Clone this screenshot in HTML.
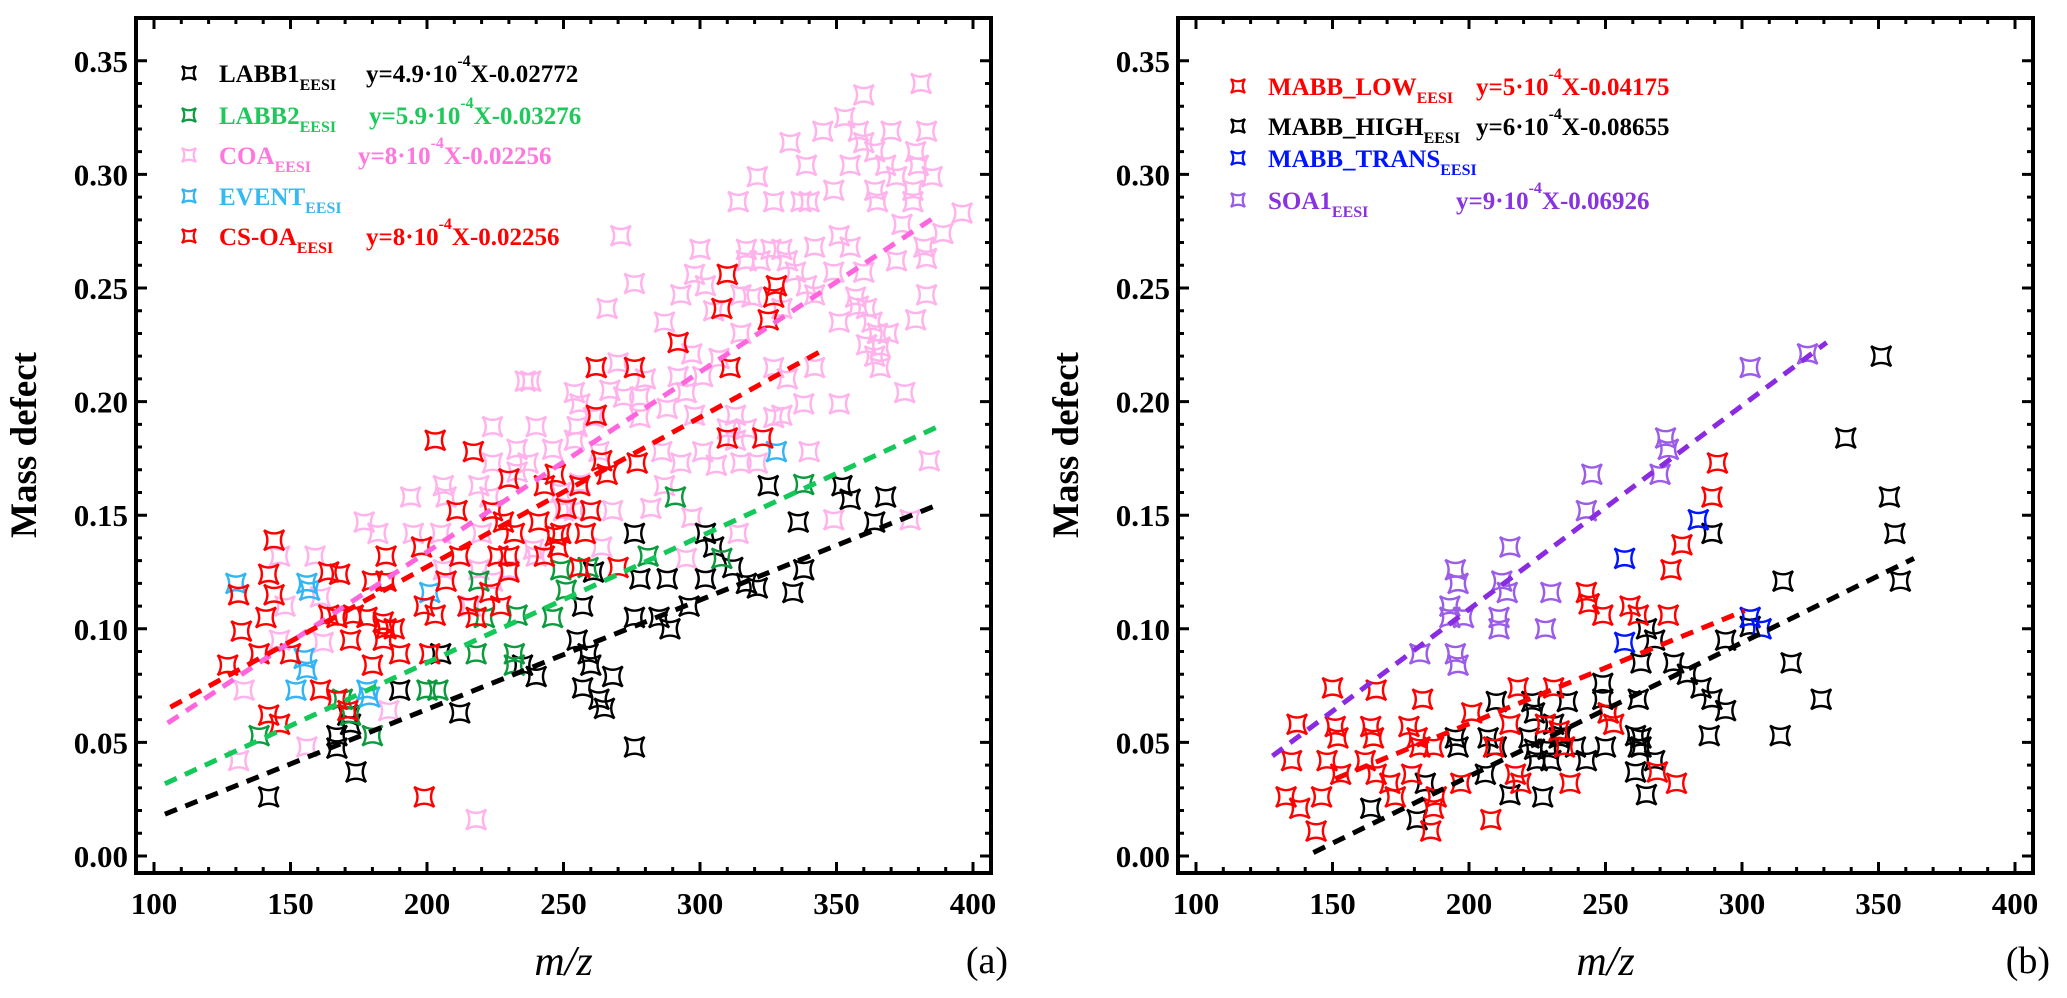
<!DOCTYPE html>
<html><head><meta charset="utf-8"><style>
html,body{margin:0;padding:0;background:#fff;}
svg{display:block;font-family:"Liberation Serif",serif;}
</style></head><body>
<svg id="chart" width="2067" height="998" viewBox="0 0 2067 998" xmlns="http://www.w3.org/2000/svg">
<g id="panelA"></g>
<g id="panelB"></g>
</svg>
<script>
// ---- Panel (a) data ----
const labb1X=[142,174,167,167,172,171,190,212,205,235,240,257,255,259,257,260,325,352,355,368,336,364,276,302,305,312,338,317,321,334,261,278,288,302,265,268,263,276,276,285,289,296];
const labb1Y=[.026,.037,.0475,.053,.058,.062,.073,.063,.089,.084,.079,.110,.095,.089,.074,.084,.163,.163,.157,.158,.147,.147,.142,.142,.136,.127,.126,.120,.118,.116,.125,.122,.122,.122,.065,.079,.069,.048,.105,.105,.100,.110];
const labb2X=[138.5,169,172,180,200,204,218,219,221,232,232,233,246,259,291,338,281,308,249,251];
const labb2Y=[.053,.069,.062,.053,.073,.073,.089,.121,.105,.089,.084,.106,.105,.127,.158,.1635,.132,.131,.126,.117];
const eventX=[130,156,157,201,155,156,152,178,179,328];
const eventY=[.12,.12,.117,.116,.087,.082,.073,.073,.070,.178];
const csoaX=[144,203,217,142,131,144,141,132,127,138.5,150,164,168,185,180,185,164,167,173,178,184,185,188,172,184,190,180,201,161,167,171,142,146,199,198,199,203,212,215,218,227,223,207,226,230,230,228,232,241,247,248,243,224,230,243,247,256,260,258,256,211,310,328,327,308,325,292,311,262,276,262,310,323,264,266,277,251,249,270];
const csoaY=[.139,.183,.178,.124,.115,.115,.105,.099,.084,.089,.089,.125,.124,.132,.121,.121,.106,.105,.106,.105,.103,.100,.100,.095,.095,.089,.084,.089,.073,.069,.064,.062,.058,.026,.136,.110,.106,.132,.110,.105,.110,.116,.121,.132,.132,.125,.147,.142,.147,.141,.136,.132,.152,.166,.163,.168,.163,.152,.142,.127,.152,.256,.251,.246,.241,.236,.226,.215,.215,.215,.194,.184,.184,.174,.168,.173,.153,.142,.127];
const coaX=[236,238,224,240,256,254,246,233,224,237,233,206,219,194,207,223,177,182,195,205,220,250,254,146,159,206,219,230,240,148,161,146,162,216,133,186,131,156,218,224,239,381,360,353,345,370,383,333,358,360,364,379,339,355,368,380,372,385,321,349,364,378,378,314,327,337,340,365,396,374,389,351,382,383,372,360,355,342,349,271,300,317,326,330,317,322,332,335,298,302,276,293,315,319,339,342,357,383,358,361,266,287,305,330,351,363,379,365,369,361,366,364,366,375,315,307,297,327,342,332,338,351,330,313,262,270,276,280,254,267,272,278,292,295,301,298,288,310,313,317,327,255,261,278,263,286,293,301,306,315,321,340,384,287,268,282,297,314,349,377,264,295,302,249,256];
const coaY=[.209,.209,.189,.189,.199,.183,.179,.179,.173,.173,.169,.163,.163,.158,.158,.158,.147,.142,.142,.142,.142,.152,.152,.132,.132,.126,.126,.126,.132,.110,.114,.095,.094,.110,.073,.064,.042,.048,.016,.121,.135,.340,.335,.325,.319,.319,.319,.314,.319,.314,.310,.310,.304,.304,.304,.304,.299,.299,.299,.293,.293,.293,.288,.288,.288,.288,.288,.288,.283,.278,.274,.273,.268,.263,.262,.257,.268,.268,.257,.273,.267,.267,.267,.267,.262,.262,.262,.257,.256,.251,.252,.247,.247,.246,.251,.247,.246,.247,.242,.241,.241,.235,.240,.241,.235,.235,.236,.230,.230,.225,.224,.220,.215,.204,.230,.219,.221,.215,.215,.210,.199,.199,.194,.194,.215,.217,.215,.210,.204,.205,.202,.202,.211,.204,.211,.194,.197,.188,.183,.188,.193,.189,.193,.193,.178,.178,.173,.178,.172,.173,.173,.178,.174,.163,.152,.153,.149,.142,.148,.148,.136,.131,.122,.160,.164];
const lineAX0=[104,104,105,106], lineAY0=[.0184,.0318,.0585,.0655];
const lineAX1=[388,389,387,344], lineAY1=[.155,.190,.282,.222];
// ---- Panel (b) data ----
const lowX=[243,244,262,150,166,183,201,218,231,251,215,228,233,137,151,164,178,152,165,181,182,187,209,235,135,148,162,179,153,166,171,217,219,197,237,133,146,138,173,188,187,208,144,186,291,289,278,274,259,273,249,253,269,276];
const lowY=[.116,.111,.106,.074,.073,.069,.063,.074,.074,.063,.058,.058,.055,.058,.057,.057,.057,.052,.052,.052,.048,.048,.048,.048,.042,.042,.042,.036,.036,.036,.032,.036,.032,.032,.032,.026,.026,.021,.026,.026,.021,.016,.011,.011,.173,.158,.137,.126,.110,.106,.106,.058,.037,.032];
const highX=[263,262,249,249,210,223,236,224,195,196,207,210,222,224,229,233,239,225,230,243,263,263,261,231,234,206,184,215,227,164,181,351,338,354,356,289,358,315,265,268,294,303,275,280,285,289,294,318,329,288,314,261,262,268,265,250,251];
const highY=[.085,.069,.076,.069,.068,.068,.068,.063,.052,.048,.052,.048,.052,.047,.047,.052,.048,.042,.042,.042,.052,.048,.037,.058,.053,.036,.032,.027,.026,.021,.016,.220,.184,.158,.142,.142,.121,.121,.100,.095,.095,.101,.085,.080,.074,.069,.064,.085,.069,.053,.053,.053,.048,.042,.027,.048,.063];
const transX=[284,257,257,303,307];
const transY=[.148,.131,.094,.105,.100];
const soaX=[245,243,215,195,196,212,214,230,193,193,198,211,211,228,182,195,196,303,324,272,273,270];
const soaY=[.168,.152,.136,.126,.120,.121,.116,.116,.110,.105,.105,.105,.100,.100,.089,.089,.084,.215,.221,.184,.179,.168];
const lineBX0=[151,143,128], lineBY0=[.034,.0015,.044];
const lineBX1=[301,363,331], lineBY1=[.108,.131,.226];
const xTicks=[100,150,200,250,300,350,400];
const yTicks=[0.00,0.05,0.10,0.15,0.20,0.25,0.30,0.35];

const NS="http://www.w3.org/2000/svg";
function mk(tag,attrs,parent){const e=document.createElementNS(NS,tag);for(const k in attrs)e.setAttribute(k,attrs[k]);parent.appendChild(e);return e;}
const TOP=18,BOT=873,W=855;
function axes(left){
  return {x:v=>left+18+(v-100)*2.73, y:v=>856-v*2272};
}
function star(cx,cy,s){const c=0.35*s;
  return `M${cx-s},${cy-s} Q${cx},${cy-c} ${cx+s},${cy-s} Q${cx+c},${cy} ${cx+s},${cy+s} Q${cx},${cy+c} ${cx-s},${cy+s} Q${cx-c},${cy} ${cx-s},${cy-s} Z`;}

function frame(g,left,lab){
  const ax=axes(left);
  const r=mk('rect',{x:left,y:TOP,width:W,height:BOT-TOP,fill:'none',stroke:'#000','stroke-width':4},g);
  
  
  let d='';
  for(let v=100;v<=400;v+=10){const px=ax.x(v);const L=(v%50===0)?11:6;d+=`M${px},${BOT}v${-L}M${px},${TOP}v${L}`;}
  for(let i=0;i<=35;i++){const v=i/100;const py=ax.y(v);const L=(i%5===0)?11:6;d+=`M${left},${py}h${L}M${left+W},${py}h${-L}`;}
  const t=mk('path',{d:d,stroke:'#000','stroke-width':3,fill:'none'},g);
  
  
  xTicks.forEach(v=>{const e=mk('text',{x:ax.x(v),y:914,'text-anchor':'middle','font-size':31,'font-weight':'bold'},g);e.textContent=String(v);
    
    });
  yTicks.forEach(v=>{const e=mk('text',{x:left-8,y:ax.y(v)+11,'text-anchor':'end','font-size':31,'font-weight':'bold'},g);e.textContent=v.toFixed(2);
    
    });
  const yt=mk('text',{x:0,y:0,transform:`translate(${left-100},445) rotate(-90)`,'text-anchor':'middle','font-size':37,'font-weight':'bold'},g);
  yt.textContent='Mass defect';
  
  
  const xt=mk('text',{x:left+W/2,y:975,'text-anchor':'middle','font-size':42,'font-style':'italic'},g);
  xt.textContent='m/z';
  
  
  const pl=mk('text',{x:left+W+17,y:973,'text-anchor':'end','font-size':38},g);
  pl.textContent=lab;
  
  
  return ax;
}
function series(g,ax,xs,ys,color,name){
  const sg=mk('g',{},g);
  
  
  xs.forEach((v,i)=>{const p=mk('path',{d:star(ax.x(v),ax.y(ys[i]),10),fill:'none',stroke:color,'stroke-width':2.4},sg);
    
    });
}
function fit(g,ax,x0,y0,x1,y1,color,name){
  const l=mk('line',{x1:ax.x(x0),y1:ax.y(y0),x2:ax.x(x1),y2:ax.y(y1),stroke:color,'stroke-width':5,'stroke-dasharray':'13 9'},g);
  
  
}
function legend(g,x,y,color,mcol,name,eq,eqx,key){
  const p=mk('path',{d:star(x,y,7),fill:'none',stroke:mcol,'stroke-width':2.2},g);
  
  
  const t=mk('text',{x:x+30,y:y+9,'font-size':25,'font-weight':'bold',fill:color},g);
  t.innerHTML=name+'<tspan font-size="16" dy="8">EESI</tspan>';
  
  
  if(eq){const e=mk('text',{x:eqx,y:y+9,'font-size':25,'font-weight':'bold',fill:color},g);
    e.innerHTML=eq[0]+'<tspan font-size="16" dy="-16">-4</tspan><tspan dy="16">'+eq[1]+'</tspan>';
    
    }
}
// Panel A
const gA=document.getElementById('panelA');
const axA=frame(gA,136,'(a)');
series(gA,axA,coaX,coaY,'#ffb3ea','coa-series');
series(gA,axA,labb1X,labb1Y,'#000','labb1-series');
series(gA,axA,labb2X,labb2Y,'#0d9a3e','labb2-series');
series(gA,axA,eventX,eventY,'#33b5f5','event-series');
series(gA,axA,csoaX,csoaY,'#ff0000','csoa-series');
const colA=['#000','#14c85a','#ff66dd','#ff0000'];
const nmA=['labb1-fit-line','labb2-fit-line','coa-fit-line','csoa-fit-line'];
lineAX0.forEach((v,i)=>fit(gA,axA,v,lineAY0[i],lineAX1[i],lineAY1[i],colA[i],nmA[i]));
legend(gA,189,73,'#000','#000','LABB1',['y=4.9·10','X-0.02772'],366,'labb1');
legend(gA,189,115,'#1ec85a','#0d9a3e','LABB2',['y=5.9·10','X-0.03276'],369,'labb2');
legend(gA,189,155,'#ff77dd','#ffb3ea','COA',['y=8·10','X-0.02256'],358,'coa');
legend(gA,189,196,'#38b8f0','#33b5f5','EVENT',null,0,'event');
legend(gA,189,236,'#ff0000','#ff0000','CS-OA',['y=8·10','X-0.02256'],366,'csoa');
// Panel B
const gB=document.getElementById('panelB');
const axB=frame(gB,1178,'(b)');
series(gB,axB,soaX,soaY,'#9b5ce8','soa1-series');
series(gB,axB,highX,highY,'#000','mabb-high-series');
series(gB,axB,lowX,lowY,'#ff0000','mabb-low-series');
series(gB,axB,transX,transY,'#0015ff','mabb-trans-series');
const colB=['#ff0000','#000','#8a2be2'];
const nmB=['mabb-low-fit-line','mabb-high-fit-line','soa1-fit-line'];
lineBX0.forEach((v,i)=>fit(gB,axB,v,lineBY0[i],lineBX1[i],lineBY1[i],colB[i],nmB[i]));
legend(gB,1238,86,'#ff0000','#ff0000','MABB_LOW',['y=5·10','X-0.04175'],1476,'mabb-low');
legend(gB,1238,126,'#000','#000','MABB_HIGH',['y=6·10','X-0.08655'],1476,'mabb-high');
legend(gB,1238,158,'#0015ff','#0015ff','MABB_TRANS',null,0,'mabb-trans');
legend(gB,1238,200,'#8833dd','#9b5ce8','SOA1',['y=9·10','X-0.06926'],1456,'soa1');
</script>
</body></html>
